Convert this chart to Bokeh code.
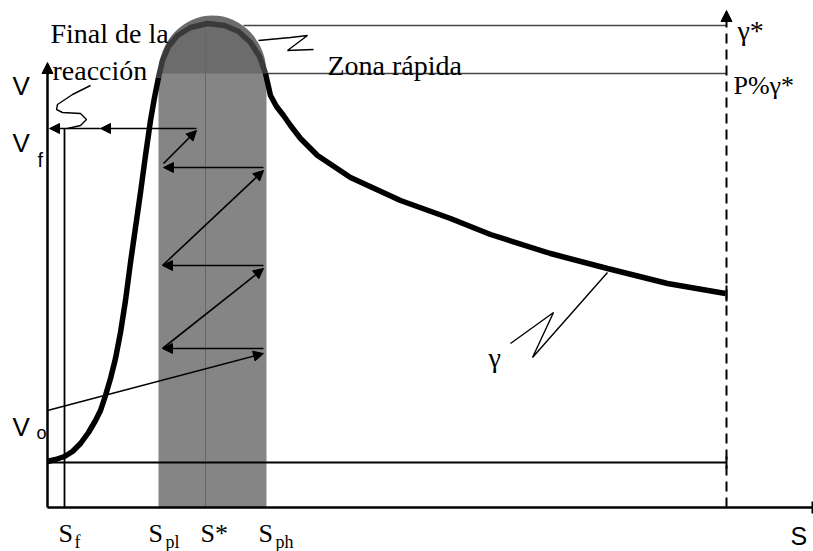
from bokeh.plotting import figure
from bokeh.models import Range1d, Arrow, NormalHead
from bokeh.core.properties import value
from bokeh.embed import file_html
from bokeh.resources import INLINE

# ---- data (S = substrate axis, V = rate axis, schematic units) ----
curve_s = [0, 8, 17, 25, 33, 41, 48, 53, 58, 63, 68, 73, 78, 83, 88, 93, 98, 103, 107, 111,
           115, 121, 130, 143, 160, 177, 191, 203, 212, 218,
           223, 229, 236, 243, 253, 270, 303, 353, 403, 443, 503, 560, 620, 678]
curve_v = [46, 48, 51, 56, 64, 75, 87, 97, 112, 129, 149, 175, 207, 245, 280, 315, 352, 387, 410, 430,
           447, 461, 472, 480, 484, 482, 476, 465, 451, 434,
           412, 401, 392, 382, 369, 352, 330, 307, 289, 273, 254, 239, 224, 214]
dome_start = 19   # index where the curve enters the fast zone
dome_end = 29     # index where it leaves it

S_f, S_pl, S_star, S_ph, S_end = 17, 111, 158, 219, 679
V_f, V_o, V_base, V_pct, V_star, V_top = 379, 97, 45, 434, 482, 492
V_axis_top, S_axis_end, V_dash_top = 445, 765, 497

# zig-zag path from V_o up to V_f (arrows)
zig_x0 = [0, 216, 115, 216, 115, 216, 116, 149, 53]
zig_y0 = [97, 159, 159, 242, 242, 340, 344, 379, 379]
zig_x1 = [216, 115, 216, 115, 216, 116, 149, 53, 2]
zig_y1 = [154, 159, 239, 242, 337, 340, 377, 379, 379]

lead_final_s = [43, 25, 10, 9, 15, 33, 39, 33, 20]
lead_final_v = [422, 413, 403, 398, 395, 394, 388, 382, 379]
lead_zona_s = [211, 243, 260, 240, 266]
lead_zona_v = [467, 470, 472, 457, 458]
lead_gamma_s = [463, 506, 485, 560]
lead_gamma_v = [164, 195, 150, 235]

SERIF = value("'Liberation Serif', 'DejaVu Serif', serif")
SANS = value("'Liberation Sans', Arial, sans-serif")

p = figure(width=813, height=551, output_backend="svg", toolbar_location=None,
           x_range=Range1d(-47, 766), y_range=Range1d(-44, 507),
           x_axis_type=None, y_axis_type=None, min_border=0,
           outline_line_color=None, background_fill_color="white",
           border_fill_color="white")
p.grid.visible = False

# fast zone: dome + column
p.ellipse(x=[(S_pl + S_ph) / 2], y=[V_pct], width=[S_ph - S_pl],
          height=[2 * (V_top - V_pct)], fill_color="#6c6c6c", line_color=None)
p.quad(left=[S_pl], right=[S_ph], bottom=[0], top=[V_pct],
       fill_color="#858585", line_color=None)
p.segment(x0=[S_star], y0=[0], x1=[S_star], y1=[V_top - 2], line_color="#666666", line_width=1)

# reference lines
p.segment(x0=[196], y0=[V_star], x1=[S_end], y1=[V_star], line_color="#444444", line_width=1.4)
p.segment(x0=[S_ph - 1], y0=[V_pct], x1=[S_end], y1=[V_pct], line_color="#444444", line_width=1.4)
p.segment(x0=[0], y0=[V_base], x1=[S_end], y1=[V_base], line_color="black", line_width=1.8)
p.segment(x0=[S_f], y0=[0], x1=[S_f], y1=[V_f], line_color="black", line_width=1.8)

# axes
p.segment(x0=[0], y0=[0], x1=[S_axis_end], y1=[0], line_color="black", line_width=2.5)
p.segment(x0=[S_axis_end], y0=[-6], x1=[S_axis_end], y1=[6], line_color="black", line_width=2)
p.add_layout(Arrow(end=NormalHead(size=11, fill_color="black", line_color="black"),
                   x_start=0, y_start=0, x_end=0, y_end=V_axis_top,
                   line_color="black", line_width=2.5))
p.add_layout(Arrow(end=NormalHead(size=11, fill_color="black", line_color="black"),
                   x_start=S_end, y_start=0, x_end=S_end, y_end=V_dash_top,
                   line_color="black", line_width=2, line_dash="10 6"))
p.segment(x0=[S_end, S_end], y0=[V_base - 6, curve_v[-1] - 8],
          x1=[S_end, S_end], y1=[V_base + 6, curve_v[-1] + 8],
          line_color="black", line_width=2)

# curve gamma
p.line(curve_s[:dome_start + 1], curve_v[:dome_start + 1], line_color="black", line_width=5.5)
p.line(curve_s[dome_start:dome_end + 1], curve_v[dome_start:dome_end + 1],
       line_color="#3a3a3a", line_width=5.5)
p.line(curve_s[dome_end:], curve_v[dome_end:], line_color="black", line_width=5.5)

# zig-zag arrows
for x0, y0, x1, y1 in zip(zig_x0, zig_y0, zig_x1, zig_y1):
    p.add_layout(Arrow(end=NormalHead(size=10, fill_color="black", line_color="black"),
                       x_start=x0, y_start=y0, x_end=x1, y_end=y1,
                       line_color="black", line_width=1.6))

# leader squiggles
p.line(lead_final_s, lead_final_v, line_color="black", line_width=1.4)
p.line(lead_zona_s, lead_zona_v, line_color="black", line_width=1.4)
p.line(lead_gamma_s, lead_gamma_v, line_color="black", line_width=1.4)

def label(txt, s, v, size, font=SERIF, style="normal"):
    p.text(x=[s], y=[v], text=[txt], text_font=font, text_font_size=f"{size}px",
           text_align="left", text_baseline="alphabetic", text_color="black",
           text_font_style=style)

label("Final de la", 3, 474, 28)
label("reacción", 5, 437, 28)
label("Zona rápida", 280, 442, 28)
label("γ*", 690, 477, 28)
label("P%γ*", 686, 422, 26)
label("γ", 441, 150, 28)

label("V", -35, 422, 26, SANS)
label("V", -35, 365, 26, SANS)
label("f", -10, 348, 20, SANS)
label("V", -35, 81, 26, SANS)
label("o", -11, 75, 18, SANS)

label("S", 11, -26, 26)
label("f", 27, -34, 18)
label("S", 101, -26, 26)
label("pl", 118, -34, 18)
label("S*", 153, -26, 26)
label("S", 211, -26, 26)
label("ph", 228, -34, 18)
label("S", 743, -28, 25, SANS)

open("out.html", "w").write(file_html(p, INLINE))
